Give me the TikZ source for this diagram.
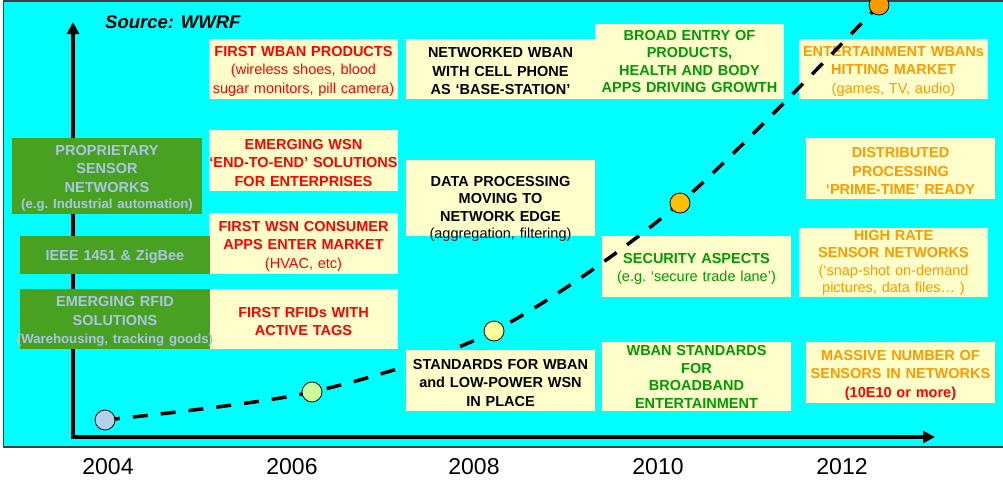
\documentclass[tikz,border=0pt]{standalone}
\usepackage{fontspec}
\setmainfont{Liberation Sans}
\usepackage{xcolor}
\usepackage{tikz}
\usetikzlibrary{arrows.meta}

\definecolor{sky}{RGB}{0,255,255}
\definecolor{note}{RGB}{255,255,204}
\definecolor{leaf}{RGB}{73,161,33}
\definecolor{pale}{RGB}{170,198,228}
\definecolor{grass}{RGB}{0,155,0}
\definecolor{amber}{RGB}{255,153,0}
\definecolor{dotblue}{RGB}{180,208,236}
\definecolor{dotgreen}{RGB}{204,255,153}
\definecolor{dotyellow}{RGB}{255,255,153}
\definecolor{dotgold}{RGB}{255,192,0}

\begin{document}
\begin{tikzpicture}[
x=1pt, y=-1pt,
ybox/.style={fill=note, inner sep=0pt, text width=189pt, align=center, font=\frenchspacing\bfseries\fontsize{14.5}{18.5}\selectfont, execute at begin node={\rule{0pt}{15pt}}},
tight/.style={font=\frenchspacing\bfseries\fontsize{14.5}{17.5}\selectfont, text height=10.5pt},
gbox/.style={ybox, fill=leaf, text=pale, text width=190pt},
dot/.style={circle, draw, line width=0.8pt, minimum size=20pt, inner sep=0pt},
trend/.style={line width=3.5pt, dash pattern=on 15pt off 13pt},
axis/.style={line width=3.5pt, {Triangle[length=12pt,width=12pt]}-{Triangle[length=12pt,width=12pt]}},
year/.style={font=\fontsize{23}{26}\selectfont}
]
\useasboundingbox (0,0) rectangle (1003,480);
\fill[white] (0,0) rectangle (1003,480);
\filldraw[fill=sky, draw=black!75, line width=1.5pt] (3.5,1) rectangle (1012,447);

\coordinate (o) at (73,437);
\coordinate (ytop) at (73,22);
\coordinate (xend) at (935,437);
\draw[axis] (ytop) -- (o) -- (xend);

\node[ybox, minimum height=60pt, text=red] (wban) at (303.5,69) {FIRST WBAN PRODUCTS\\\mdseries (wireless shoes, blood\\sugar monitors, pill camera)};
\node[ybox, minimum height=60pt] (netw) at (500.5,69) {NETWORKED WBAN\\WITH CELL PHONE\\AS ‘BASE-STATION’};
\node[ybox, tight, minimum height=75pt, text=grass] (broad) at (689.5,61.5) {BROAD ENTRY OF\\PRODUCTS,\\HEALTH AND BODY\\APPS DRIVING GROWTH};
\node[ybox, minimum height=60pt, text=amber] (ent) at (893.5,69) {ENTERTAINMENT WBANs\\HITTING MARKET\\\mdseries (games, TV, audio)};

\node[ybox, minimum height=61pt, text=red] (wsn) at (303.5,160.5) {EMERGING WSN\\‘END-TO-END’ SOLUTIONS\\FOR ENTERPRISES};
\node[ybox, tight, minimum height=76pt, text depth=34pt] (data) at (500.5,198) {DATA PROCESSING\\MOVING TO\\NETWORK EDGE\\\mdseries (aggregation, filtering)};
\node[ybox, minimum height=61pt, text=amber] (distr) at (900.5,168.5) {DISTRIBUTED\\PROCESSING\\‘PRIME-TIME’ READY};

\node[ybox, minimum height=61pt, text=red] (consumer) at (303.5,243.5) {FIRST WSN CONSUMER\\APPS ENTER MARKET\\\mdseries (HVAC, etc)};
\node[ybox, minimum height=61pt, text=grass] (security) at (696.5,266.5) {SECURITY ASPECTS\\\mdseries (e.g. ‘secure trade lane’)};
\node[ybox, tight, minimum height=69pt, text=amber] (highrate) at (893.5,262.5) {HIGH RATE\\SENSOR NETWORKS\\\mdseries (‘snap-shot on-demand\\pictures, data files… )};

\node[ybox, minimum height=60pt, text=red] (active) at (303.5,319) {FIRST RFIDs WITH\\ACTIVE TAGS};
\node[ybox, tight, minimum height=69pt, text=grass] (wbstd) at (696.5,376.5) {WBAN STANDARDS\\FOR\\BROADBAND\\ENTERTAINMENT};
\node[ybox, minimum height=61pt, text=amber] (massive) at (900.5,372.5) {MASSIVE NUMBER OF\\SENSORS IN NETWORKS\\\color{red}(10E10 or more)};

\node[gbox, minimum height=76pt] (prop) at (107,176) {PROPRIETARY\\SENSOR\\NETWORKS\\[-2pt]\fontsize{13.2}{18.5}\selectfont (e.g. Industrial automation)};
\node[gbox, minimum height=38pt] (ieee) at (115,255) {IEEE 1451 \& ZigBee};
\node[gbox, minimum height=60pt] (rfid) at (115,319) {EMERGING RFID\\SOLUTIONS\\\fontsize{13.2}{18.5}\selectfont\makebox[\linewidth]{(Warehousing, tracking goods)}};

\coordinate (p04) at (105,420);
\coordinate (p06) at (312,392);
\coordinate (p08) at (494,331);
\coordinate (p10) at (680,203);
\coordinate (p12) at (879,5);
\draw[trend] plot[smooth] coordinates {(p04) (p06) (p08) (p10) (p12)};

\node[ybox, minimum height=61pt] (std) at (500.5,380.5) {STANDARDS FOR WBAN\\and LOW-POWER WSN\\IN PLACE};

\node[dot, fill=dotblue] (d04) at (p04) {};
\node[dot, fill=dotgreen] (d06) at (p06) {};
\node[dot, fill=dotyellow] (d08) at (p08) {};
\node[dot, fill=dotgold] (d10) at (p10) {};
\node[dot, fill=amber] (d12) at (p12) {};

\node[year] (y04) at (108,467) {2004};
\node[year] (y06) at (292,467) {2006};
\node[year] (y08) at (474,467) {2008};
\node[year] (y10) at (658,467) {2010};
\node[year] (y12) at (842,467) {2012};

\node[font=\bfseries\itshape\fontsize{18.5}{22}\selectfont, anchor=west, inner sep=0pt] (src) at (105,22) {Source: WWRF};
\end{tikzpicture}
\end{document}
